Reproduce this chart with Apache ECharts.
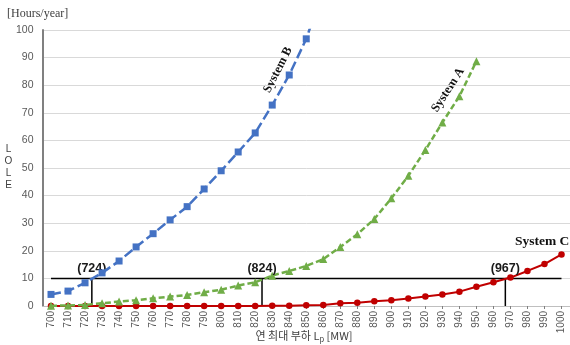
<!DOCTYPE html>
<html>
<head>
<meta charset="utf-8">
<script src="https://cdn.jsdelivr.net/npm/echarts@6/dist/echarts.min.js"></script>
<style>
  html, body { margin: 0; padding: 0; background: #fff; }
  #chart { width: 570px; height: 345px; }
</style>
</head>
<body>
<div id="chart"></div>
<script>
// Annual peak load [MW] on the horizontal axis
const loads = [700, 710, 720, 730, 740, 750, 760, 770, 780, 790,
               800, 810, 820, 830, 840, 850, 860, 870, 880, 890,
               900, 910, 920, 930, 940, 950, 960, 970, 980, 990, 1000];

// LOLE [hours/year] per system
const systemB = [4.2, 5.4, 8.4, 12.0, 16.3, 21.4, 26.2, 31.2, 36.0, 42.4,
                 49.0, 55.8, 62.7, 72.8, 83.7, 96.8, 114.6];
const systemA = [0.1, 0.2, 0.4, 1.0, 1.6, 2.1, 2.8, 3.4, 4.0, 5.0,
                 5.9, 7.4, 8.6, 11.0, 12.7, 14.5, 17.0, 21.4, 26.0, 31.5,
                 39.0, 47.2, 56.5, 66.5, 76.0, 88.7];
const systemC = [0, 0, 0, 0, 0, 0, 0, 0, 0, 0,
                 0, 0, 0, 0.05, 0.1, 0.25, 0.4, 1.0, 1.2, 1.7,
                 2.1, 2.7, 3.4, 4.2, 5.2, 7.0, 8.6, 10.3, 12.7, 15.2, 18.7];

// LOLE criterion and the load where each system reaches it
const criterion = 10;
const crossings = [724, 824, 967];

const yTicks = { min: 0, max: 100, interval: 10 };

const pairs = (vals) => vals.map((v, i) => [loads[i], v]);

const chart = echarts.init(document.getElementById('chart'), null, { renderer: 'canvas' });

const refSeries = [];
refSeries.push({
  type: 'line', xAxisIndex: 1, silent: true, symbol: 'none', z: 1,
  data: [[loads[0], criterion], [loads[loads.length - 1], criterion]],
  lineStyle: { color: '#000', width: 1.5 }
});
crossings.forEach((c) => {
  refSeries.push({
    type: 'line', xAxisIndex: 1, silent: true, symbol: 'none', z: 1,
    data: [[c, 0], [c, criterion]],
    lineStyle: { color: '#000', width: 1.5 },
    markPoint: {
      symbol: 'rect', symbolSize: 0,
      data: [{ coord: [c, criterion] }],
      label: {
        show: true, formatter: '(' + c + ')', offset: [0, -10],
        color: '#1a1a1a', fontFamily: 'Liberation Sans', fontWeight: 'bold', fontSize: 12.5
      }
    }
  });
});

const serif = 'Liberation Serif';

chart.setOption({
  animation: false,
  backgroundColor: '#fff',
  grid: { left: 42.5, top: 30, width: 529, bottom: 39, containLabel: false },
  xAxis: [
    {
      type: 'category',
      data: loads.map(String),
      boundaryGap: true,
      axisLine: { show: true, lineStyle: { color: '#bfbfbf', width: 1 } },
      axisTick: { show: true, alignWithLabel: true, length: 3, lineStyle: { color: '#808080' } },
      axisLabel: { rotate: 90, interval: 0, color: '#595959', fontSize: 10, fontFamily: 'Liberation Sans', margin: 5 },
      splitLine: { show: false }
    },
    {
      type: 'value', min: 695, max: 1005, show: false, position: 'bottom'
    }
  ],
  yAxis: {
    type: 'value',
    min: yTicks.min, max: yTicks.max, interval: yTicks.interval,
    axisLine: { show: true, lineStyle: { color: '#808080', width: 2 } },
    axisTick: { show: false },
    axisLabel: { color: '#595959', fontSize: 10.5, fontFamily: 'Liberation Sans', margin: 9 },
    splitLine: { show: true, lineStyle: { color: '#d9d9d9', width: 1 } }
  },
  graphic: [
    { type: 'text', left: 7, top: 8,
      style: { text: '[Hours/year]', fontFamily: serif, fontSize: 12, fill: '#404040' } },
    { type: 'text', x: 8.5, y: 143,
      style: { text: 'L\nO\nL\nE', fontFamily: 'Liberation Sans', fontSize: 10, lineHeight: 12,
               fill: '#404040', align: 'center' } },
    { type: 'text', x: 304, y: 336,
      style: {
        text: '{t|연 최대 부하 L}{s|p}{t| [MW]}',
        align: 'center', verticalAlign: 'middle',
        rich: {
          t: { fontFamily: 'Noto Sans CJK KR', fontSize: 11, fill: '#404040' },
          s: { fontFamily: 'Noto Sans CJK KR', fontSize: 7.5, fill: '#404040', padding: [6, 0, 0, 0] }
        }
      } },
    { type: 'text', x: 278, y: 70, rotation: 63 * Math.PI / 180,
      style: { text: 'System B', fontFamily: serif, fontWeight: 'bold', fontSize: 12.5,
               fill: '#111', align: 'center', verticalAlign: 'middle' } },
    { type: 'text', x: 448, y: 90, rotation: 57 * Math.PI / 180,
      style: { text: 'System A', fontFamily: serif, fontWeight: 'bold', fontSize: 12.5,
               fill: '#111', align: 'center', verticalAlign: 'middle' } },
    { type: 'text', x: 515, y: 242,
      style: { text: 'System C', fontFamily: serif, fontWeight: 'bold', fontSize: 13.5,
               fill: '#111', align: 'left', verticalAlign: 'middle' } }
  ],
  series: refSeries.concat([
    {
      name: 'System C', type: 'line', xAxisIndex: 1, z: 3,
      data: pairs(systemC),
      symbol: 'circle', symbolSize: 6.5,
      itemStyle: { color: '#c00000' },
      lineStyle: { color: '#c00000', width: 2 }
    },
    {
      name: 'System A', type: 'line', xAxisIndex: 1, z: 4,
      data: pairs(systemA),
      symbol: 'triangle', symbolSize: 8,
      itemStyle: { color: '#70ad47' },
      lineStyle: { color: '#70ad47', width: 2.5, type: [6, 3] }
    },
    {
      name: 'System B', type: 'line', xAxisIndex: 1, z: 5,
      data: pairs(systemB),
      symbol: 'rect', symbolSize: 7,
      itemStyle: { color: '#4472c4' },
      lineStyle: { color: '#4472c4', width: 2.5, type: [10, 4] }
    }
  ])
});
</script>
</body>
</html>
